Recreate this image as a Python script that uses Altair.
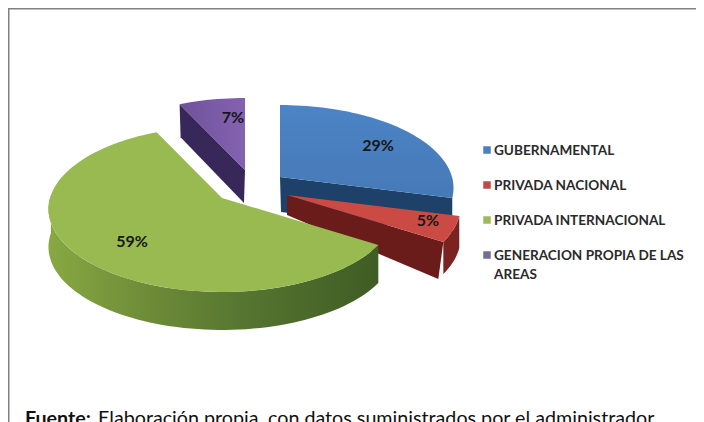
import math
import altair as alt
import pandas as pd

# ---- values
categories = ["GUBERNAMENTAL", "PRIVADA NACIONAL", "PRIVADA INTERNACIONAL", "GENERACION PROPIA DE LAS AREAS"]
shares = [29, 5, 59, 7]
legend_lines = [["GUBERNAMENTAL"], ["PRIVADA NACIONAL"], ["PRIVADA INTERNACIONAL"], ["GENERACION PROPIA DE LAS", "AREAS"]]

# ---- styling / geometry of the exploded 3-D pie (image pixels)
top_colors = ["#4a82c3", "#cb4a44", "#98ba50", "#7c5ca8"]
cut_colors = ["#1d4168", "#6a1c1b", "#3d5a22", "#38285a"]
legend_colors = ["#4a7fbc", "#bd4a48", "#9cba5c", "#70708a"]
apex = [(280, 177), (287, 195), (222, 198), (245, 170)]
apex_depth = [35, 20, 38, 33]
rim_depth = 37
RX, RY, K = 172, 81.5, 0.1325
label_pos = [(378, 146), (428, 221), (132, 242), (233, 118)]
legend_y = [151, 186, 221, 256]
W, H = 688, 414

X = alt.X("x:Q", axis=None, scale=alt.Scale(domain=[8, 8 + W], nice=False, zero=False))
Y = alt.Y("y:Q", axis=None, scale=alt.Scale(domain=[8, 8 + H], reverse=True, nice=False, zero=False))


def pt(c, deg):
    t = math.radians(deg)
    u, v = math.sin(t), math.cos(t)
    w = 1 + K * v
    return (c[0] + RX * u / w, c[1] - RY * v / w)


def arc(c, a0, a1, dy=0):
    n = max(2, int(abs(a1 - a0) / 2))
    out = []
    for j in range(n + 1):
        px, py = pt(c, a0 + (a1 - a0) * j / n)
        out.append((px, py + dy))
    return out


def poly(points, fill):
    df = pd.DataFrame({"x": [p[0] for p in points], "y": [p[1] for p in points], "i": range(len(points))})
    return alt.Chart(df).mark_line(fill=fill, strokeOpacity=0, clip=True).encode(x=X, y=Y, order="i:Q")


def grad_x(stops):
    return alt.Gradient(gradient="linear", x1=0, x2=1, y1=0, y2=0,
                        stops=[alt.GradientStop(offset=o, color=c) for o, c in stops])


def grad_y(stops):
    return alt.Gradient(gradient="linear", x1=0, x2=0, y1=0, y2=1,
                        stops=[alt.GradientStop(offset=o, color=c) for o, c in stops])


edges = [0]
for s in shares:
    edges.append(edges[-1] + s * 3.6)
spans = list(zip(edges[:-1], edges[1:]))
layers = []

# purple: cut face, then top
c, (a0, a1) = apex[3], spans[3]
p = pt(c, a0)
layers.append(poly([p, c, (c[0] - 1, c[1] + apex_depth[3]), (p[0] + 1, p[1] + apex_depth[3])], cut_colors[3]))
layers.append(poly([c] + arc(c, a0, a1), grad_x([(0, "#6f529b"), (1, "#8462b0")])))

# blue: cut face, then top
c, (a0, a1) = apex[0], spans[0]
p = pt(c, a1)
layers.append(poly([c, p, (p[0], p[1] + apex_depth[0]), (c[0] + 1, c[1] + apex_depth[0])], cut_colors[0]))
layers.append(poly([c] + arc(c, a0, a1), grad_y([(0, "#4c84c6"), (1, "#4679b6")])))

# red: back cut, rim, front cut, top
c, (a0, a1) = apex[1], spans[1]
p = pt(c, a1)
layers.append(poly(arc(c, a0, a1) + arc(c, a1, a0, rim_depth - 5), "#7a2320"))
layers.append(poly([c, p, (p[0] - 5, p[1] + rim_depth), (c[0], c[1] + apex_depth[1])], cut_colors[1]))
layers.append(poly([c] + arc(c, a0, a1), top_colors[1]))

# green: rim, top
c, (a0, a1) = apex[2], spans[2]
layers.append(poly(arc(c, a0, 272) + arc(c, 272, a0, rim_depth + 1),
                   grad_x([(0, "#88a843"), (0.3, "#6e8c38"), (0.6, "#557530"), (1, "#3f5c24")])))
layers.append(poly([c] + arc(c, a0, a1), top_colors[2]))

# percentage labels
labels = pd.DataFrame({"x": [q[0] for q in label_pos], "y": [q[1] for q in label_pos],
                       "t": [f"{s}%" for s in shares]})
layers.append(alt.Chart(labels).mark_text(font="Lato", fontSize=16, fontWeight="bold", color="#161616",
                                          align="center", baseline="middle")
              .encode(x=X, y=Y, text="t:N"))

# legend
sq = pd.DataFrame({"x": [487] * 4, "y": [v - 1 for v in legend_y], "c": legend_colors})
layers.append(alt.Chart(sq).mark_square(size=56, opacity=1)
              .encode(x=X, y=Y, color=alt.Color("c:N", scale=None)))
rows = []
for yy, lines in zip(legend_y, legend_lines):
    for j, line in enumerate(lines):
        rows.append({"x": 494, "y": yy + j * 19, "t": line})
layers.append(alt.Chart(pd.DataFrame(rows)).mark_text(font="Lato", fontSize=13.6, fontWeight="bold", color="#2a2a2a",
                                                      align="left", baseline="middle")
              .encode(x=X, y=Y, text="t:N"))

# footer text
foot_a = pd.DataFrame({"x": [25], "y": [425], "t": ["Fuente:"]})
foot_b = pd.DataFrame({"x": [98], "y": [425], "t": ["Elaboración propia, con datos suministrados por el  administrador"]})
layers.append(alt.Chart(foot_a).mark_text(font="Lato", fontSize=19.7, fontWeight="bold", color="#111111",
                                          align="left", baseline="alphabetic").encode(x=X, y=Y, text="t:N"))
layers.append(alt.Chart(foot_b).mark_text(font="Lato", fontSize=19.7, color="#111111",
                                          align="left", baseline="alphabetic").encode(x=X, y=Y, text="t:N"))

# frame
frame_top = pd.DataFrame({"x": [8], "x2": [8 + W], "y": [8.5]})
frame_left = pd.DataFrame({"x": [8.5], "y": [8], "y2": [8 + H]})
layers.append(alt.Chart(frame_top).mark_rule(color="#808080", strokeWidth=2)
              .encode(x=X, x2="x2:Q", y=Y))
layers.append(alt.Chart(frame_left).mark_rule(color="#808080", strokeWidth=2)
              .encode(x=X, y=Y, y2="y2:Q"))

chart = (alt.layer(*layers)
         .properties(width=W, height=H, padding=0, background="#ffffff",
                     autosize=alt.AutoSizeParams(type="none"))
         .configure_view(stroke=None))

chart.save("out.html", embed_options={"renderer": "svg", "actions": False})
